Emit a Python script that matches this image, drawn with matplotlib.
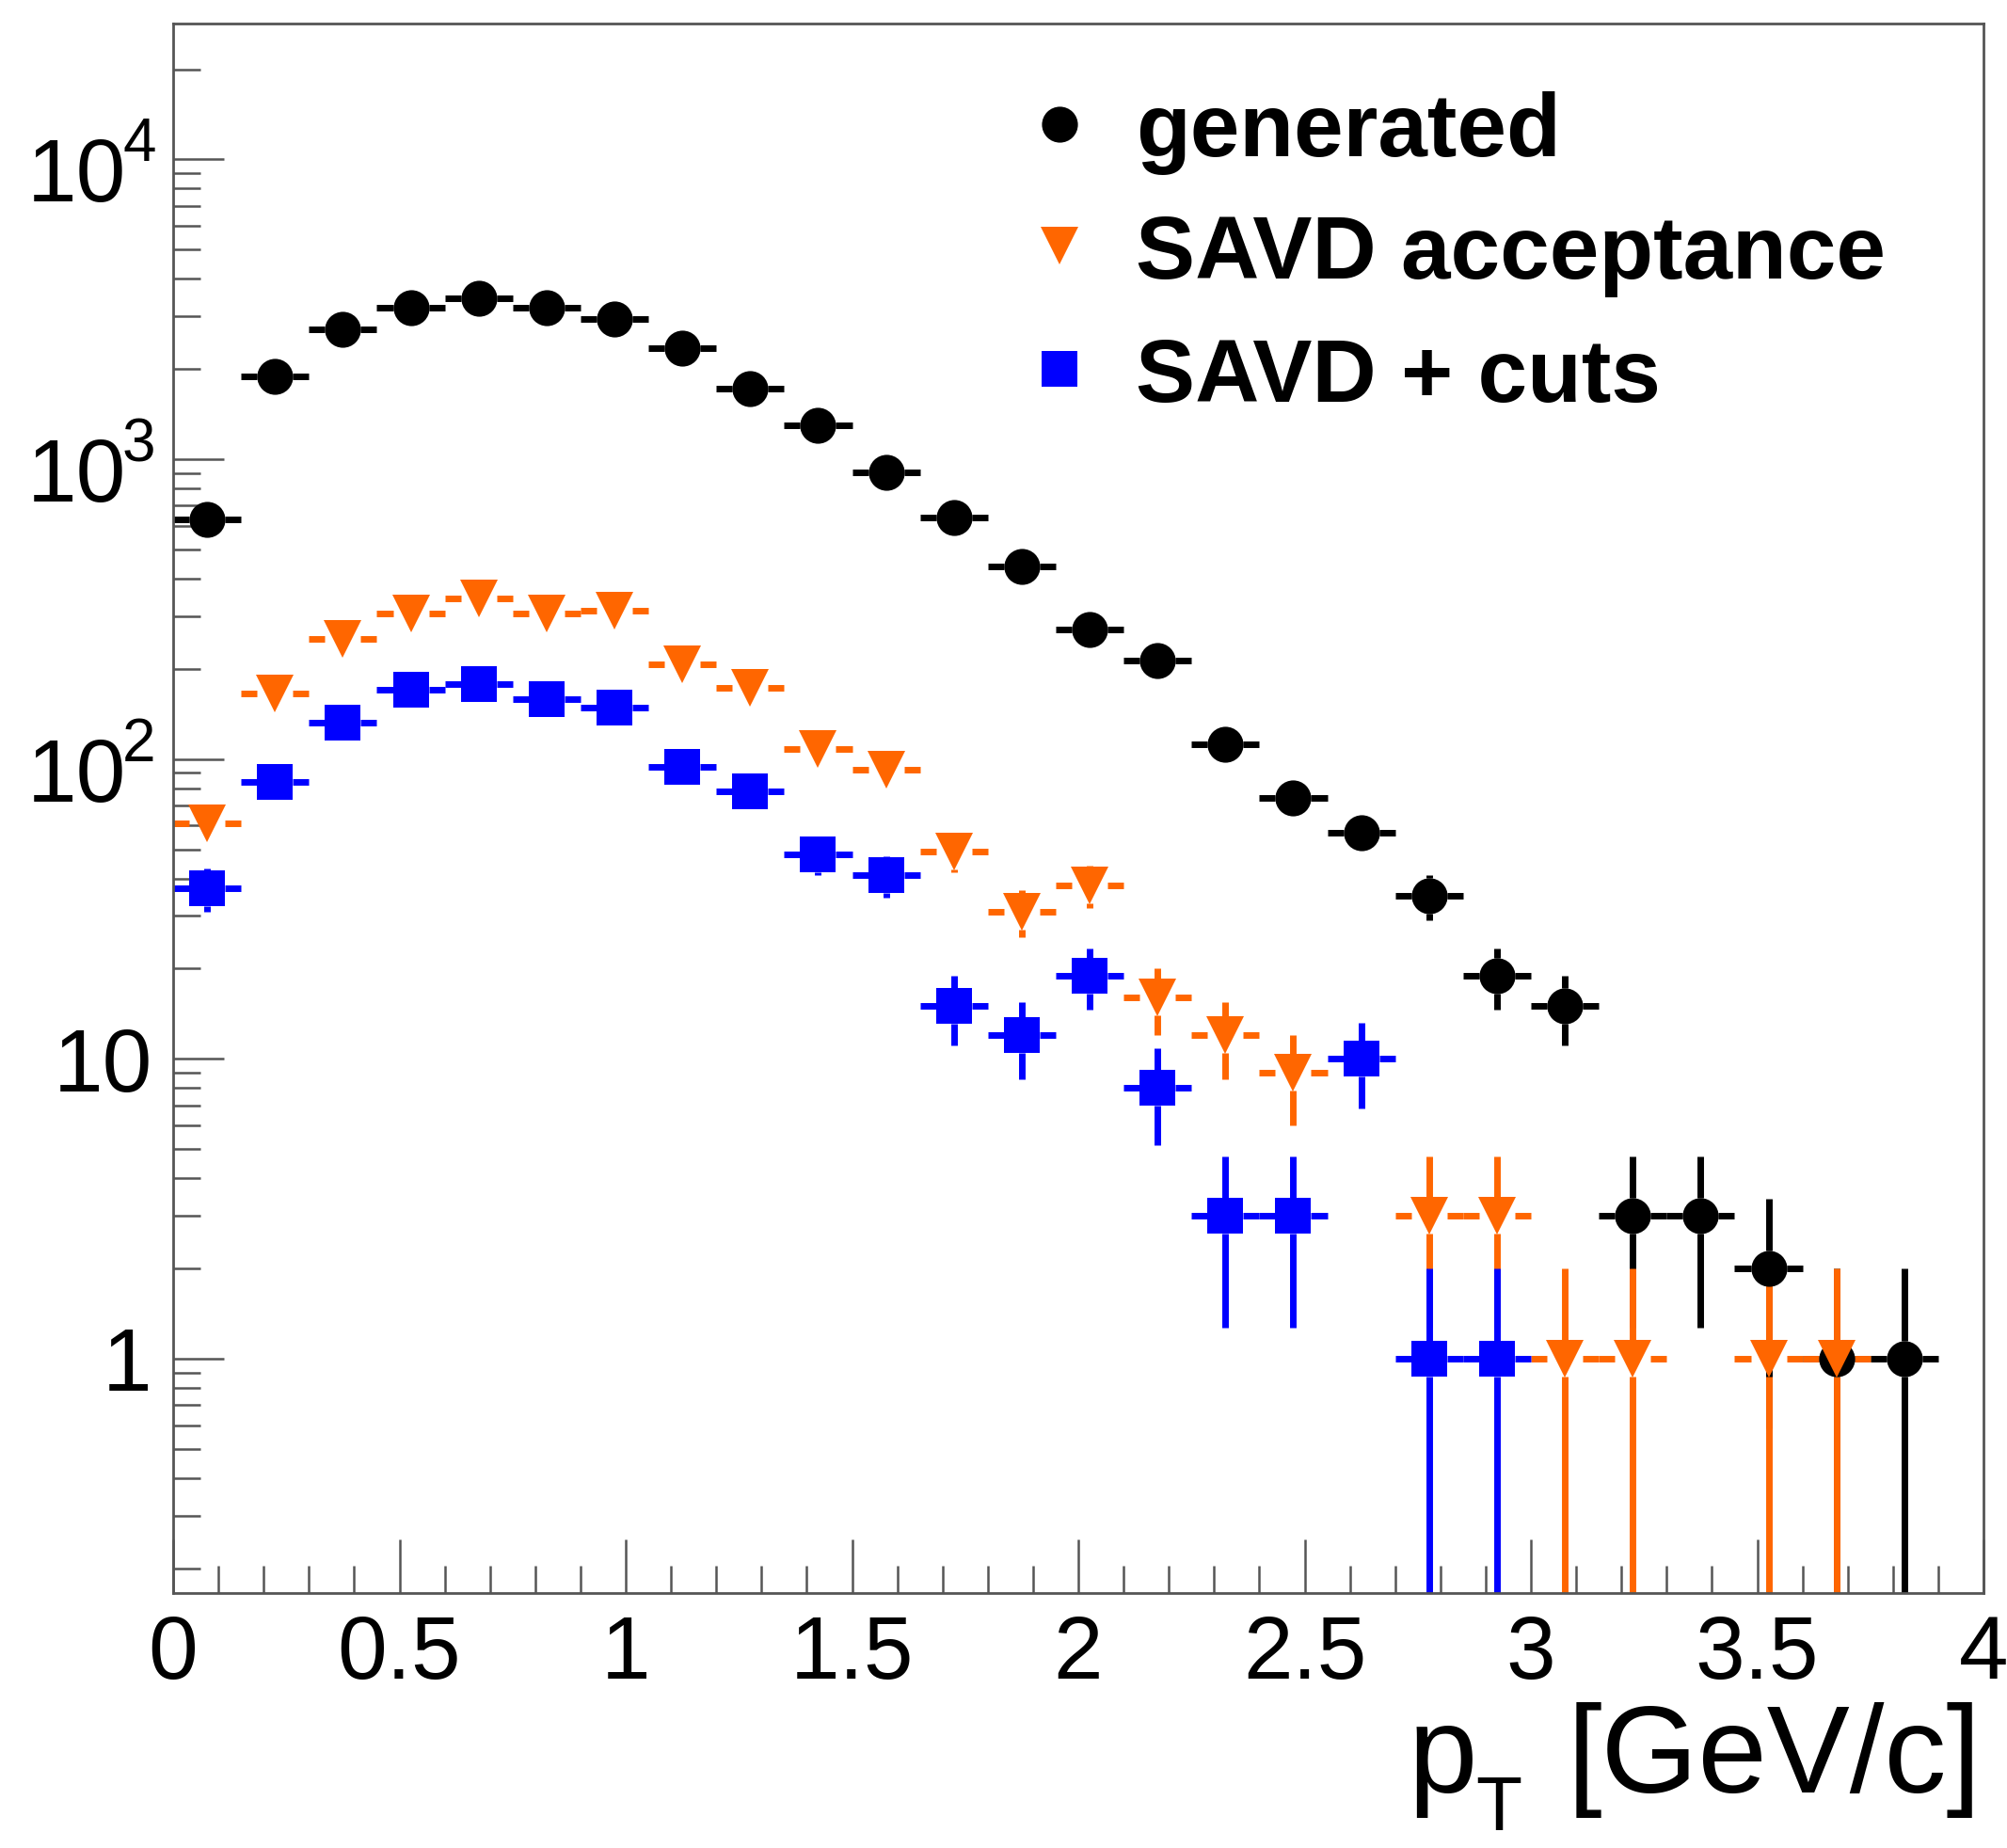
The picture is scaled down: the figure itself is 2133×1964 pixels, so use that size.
import numpy as np
import matplotlib
matplotlib.use("Agg")
import matplotlib.pyplot as plt
from matplotlib.ticker import FixedLocator, MultipleLocator, LogLocator, NullFormatter, FuncFormatter

plt.rcParams['font.family'] = ['Liberation Sans', 'DejaVu Sans']

# bin width of the pT histograms [GeV/c]
bin_width = 0.15

gen_pt = [0.075, 0.225, 0.375, 0.525, 0.675, 0.825, 0.975, 1.125, 1.275, 1.425,
          1.575, 1.725, 1.875, 2.025, 2.175, 2.325, 2.475, 2.625, 2.775, 2.925,
          3.075, 3.225, 3.375, 3.525, 3.675, 3.825]
gen_counts = [630, 1890, 2720, 3210, 3440, 3210, 2940, 2350, 1720, 1300,
              905, 640, 440, 270, 213, 112, 74, 57, 35, 19,
              15, 3, 3, 2, 1, 1]

acc_pt = [0.075, 0.225, 0.375, 0.525, 0.675, 0.825, 0.975, 1.125, 1.275, 1.425,
          1.575, 1.725, 1.875, 2.025, 2.175, 2.325, 2.475, 2.775, 2.925,
          3.075, 3.225, 3.525, 3.675]
acc_counts = [61, 165, 252, 306, 344, 306, 312, 207, 173, 108,
              92, 49, 31, 38, 16, 12, 9, 3, 3,
              1, 1, 1, 1]

cut_pt = [0.075, 0.225, 0.375, 0.525, 0.675, 0.825, 0.975, 1.125, 1.275, 1.425,
          1.575, 1.725, 1.875, 2.025, 2.175, 2.325, 2.475, 2.625, 2.775, 2.925]
cut_counts = [37, 84, 132, 170, 178, 159, 148, 94, 78, 48,
              41, 15, 12, 19, 8, 3, 3, 10, 1, 1]

labels = ["generated", "SAVD acceptance", "SAVD + cuts"]
colors = ["black", "#ff6600", "#0000ff"]
markers = ["o", "v", "s"]
marker_sizes = [27.5, 28.5, 28]

y_ticks = [1, 10, 100, 1000, 10000]
y_tick_labels = ["1", "10", "", "", ""]
y_pow_ticks = [100, 1000, 10000]
y_pow_exps = ["2", "3", "4"]

W, H = 2133, 1964
PX = 72 / 100  # points per pixel
fig = plt.figure(figsize=(W / 100, H / 100), dpi=100)
ax = fig.add_axes([184 / W, 1 - 1693 / H, (2108 - 184) / W, (1693 - 25) / H])

ymin, ymax = 0.1654, 28400
ax.set_xlim(0, 4)
ax.set_yscale('log')
ax.set_ylim(ymin, ymax)

frame_col = "#555555"
for s in ax.spines.values():
    s.set_color(frame_col)
    s.set_linewidth(2.0)

ax.xaxis.set_major_locator(MultipleLocator(0.5))
ax.xaxis.set_minor_locator(MultipleLocator(0.1))
ax.xaxis.set_major_formatter(FuncFormatter(lambda v, p: "%g" % v))
ax.yaxis.set_major_locator(FixedLocator(y_ticks))
ax.yaxis.set_minor_locator(LogLocator(base=10, subs=np.arange(2, 10)))
ax.yaxis.set_minor_formatter(NullFormatter())
ax.set_yticklabels(y_tick_labels)
ax.tick_params(which='both', direction='in', top=False, right=False,
               color=frame_col, width=1.8, labelsize=68)
ax.tick_params(axis='x', which='major', length=41, pad=16)
ax.tick_params(axis='y', which='major', length=39, pad=16)
ax.tick_params(which='minor', length=21)

# ROOT style 10^n labels: big base, raised exponent
for val, ex in zip(y_pow_ticks, y_pow_exps):
    ax.annotate("10", xy=(0, val), xycoords=('axes fraction', 'data'),
                xytext=(-50 * PX, -45 * PX), textcoords='offset points',
                ha='right', va='baseline', fontsize=68)
    ax.annotate(ex, xy=(0, val), xycoords=('axes fraction', 'data'),
                xytext=(-54 * PX, -2 * PX), textcoords='offset points',
                ha='left', va='baseline', fontsize=46)


def draw_hist(x, n, color, marker, ms, gap_px=19, lw=5.0):
    trans = ax.transData
    inv = trans.inverted()
    for xc, yc in zip(x, n):
        err = np.sqrt(yc)
        lo = yc - err
        if lo <= 0:
            lo = ymin * 0.5
        hi = yc + err
        px, py = trans.transform((xc, yc))
        xl = inv.transform((px - gap_px, py))[0]
        xr = inv.transform((px + gap_px, py))[0]
        yb = inv.transform((px, py - gap_px))[1]
        yt = inv.transform((px, py + gap_px))[1]
        kw = dict(color=color, lw=lw, solid_capstyle='butt', zorder=2)
        if xc - bin_width / 2 < xl:
            ax.plot([xc - bin_width / 2, xl], [yc, yc], **kw)
        if xr < xc + bin_width / 2:
            ax.plot([xr, xc + bin_width / 2], [yc, yc], **kw)
        if hi > yt:
            ax.plot([xc, xc], [yt, hi], **kw)
        if lo < yb:
            ax.plot([xc, xc], [lo, yb], **kw)
    ax.plot(x, n, ls='none', marker=marker, ms=ms, color=color,
            mec=color, mew=0, zorder=3)


draw_hist(gen_pt, gen_counts, colors[0], markers[0], marker_sizes[0])
draw_hist(acc_pt, acc_counts, colors[1], markers[1], marker_sizes[1], gap_px=19)
draw_hist(cut_pt, cut_counts, colors[2], markers[2], marker_sizes[2])

# legend
leg_rows = [132, 261, 392]
for i in range(3):
    yy = 1 - (leg_rows[i] - 25) / (1693 - 25)
    ax.plot([(1126 - 184) / (2108 - 184)], [yy], transform=ax.transAxes,
            ls='none', marker=markers[i], ms=marker_sizes[i], color=colors[i],
            mew=0, clip_on=False)
    ax.text((1207 - 184) / (2108 - 184), yy, labels[i], transform=ax.transAxes,
            fontsize=68, fontweight='bold', va='center_baseline', ha='left')

# x title: p with a low ROOT-like subscript T
fig.text(2106 / W, 1 - 1905 / H, "[GeV/c]", ha='right', va='baseline', fontsize=95)
fig.text(1497 / W, 1 - 1905 / H, "p", ha='left', va='baseline', fontsize=95)
fig.text(1568 / W, 2 / H, "T", ha='left', va='bottom', fontsize=58)

fig.savefig("out.png", dpi=100)
